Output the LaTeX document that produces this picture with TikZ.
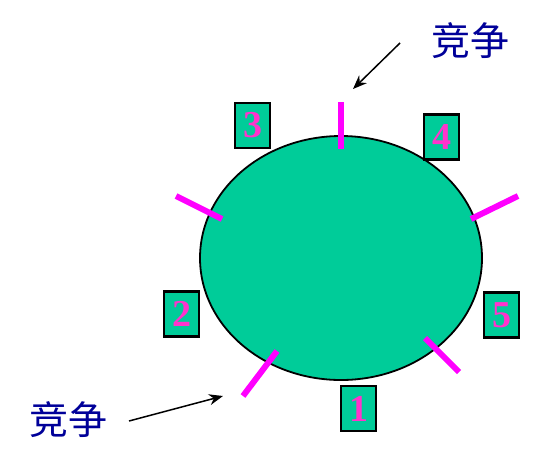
\documentclass[tikz,border=0pt]{standalone}
\usepackage{fontspec}
\setmainfont{Liberation Serif}
\newfontfamily\numfont{Liberation Serif Bold}
\newfontfamily\cjk{Noto Sans CJK SC}
\usetikzlibrary{arrows.meta,shapes.geometric}
\definecolor{teal1}{RGB}{0,204,153}
\definecolor{mag}{RGB}{255,0,255}
\definecolor{pinknum}{RGB}{255,51,204}
\definecolor{navy1}{RGB}{0,0,153}
\begin{document}
\begin{tikzpicture}[x=1pt,y=-1pt,
  numbox/.style={draw=black,line width=2.5pt,fill=teal1,minimum width=35pt,minimum height=45pt,inner sep=0pt,
    font=\numfont\fontsize{38}{38}\selectfont,text=pinknum},
  stick/.style={draw=mag,line width=6pt},
  lbl/.style={font=\cjk\fontsize{39}{39}\selectfont,text=navy1,inner sep=0pt},
  arr/.style={draw=black,line width=1.5pt,-{Stealth[length=14pt,width=11pt]}}]
\useasboundingbox (0,0) rectangle (537,466);
\node[draw=black,line width=1.8pt,fill=teal1,ellipse,minimum width=282pt,minimum height=244pt,inner sep=0pt] (E) at (341,258) {};
\coordinate (t1) at (341,102); \coordinate (t2) at (341,149);
\coordinate (rt1) at (471,219); \coordinate (rt2) at (518,196);
\coordinate (lt1) at (176,196); \coordinate (lt2) at (222,219);
\coordinate (ll1) at (277,351); \coordinate (ll2) at (243,396);
\coordinate (lr1) at (425,338); \coordinate (lr2) at (459,372);
\draw[stick] (t1) -- (t2);
\draw[stick] (rt1) -- (rt2);
\draw[stick] (lt1) -- (lt2);
\draw[stick] (ll1) -- (ll2);
\draw[stick] (lr1) -- (lr2);
\node[numbox] (b3) at (252.5,125.5) {3};
\node[numbox] (b4) at (441.5,137) {4};
\node[numbox] (b2) at (181.5,314) {2};
\node[numbox] (b5) at (501.5,315) {5};
\node[numbox] (b1) at (358.5,408.5) {1};
\node[lbl] (c1) at (470,41) {竞争};
\node[lbl] (c2) at (68,420) {竞争};
\coordinate (a1s) at (400,43); \coordinate (a1e) at (353,89);
\coordinate (a2s) at (129,421); \coordinate (a2e) at (223,396);
\draw[arr] (a1s) -- (a1e);
\draw[arr] (a2s) -- (a2e);
\end{tikzpicture}
\end{document}
